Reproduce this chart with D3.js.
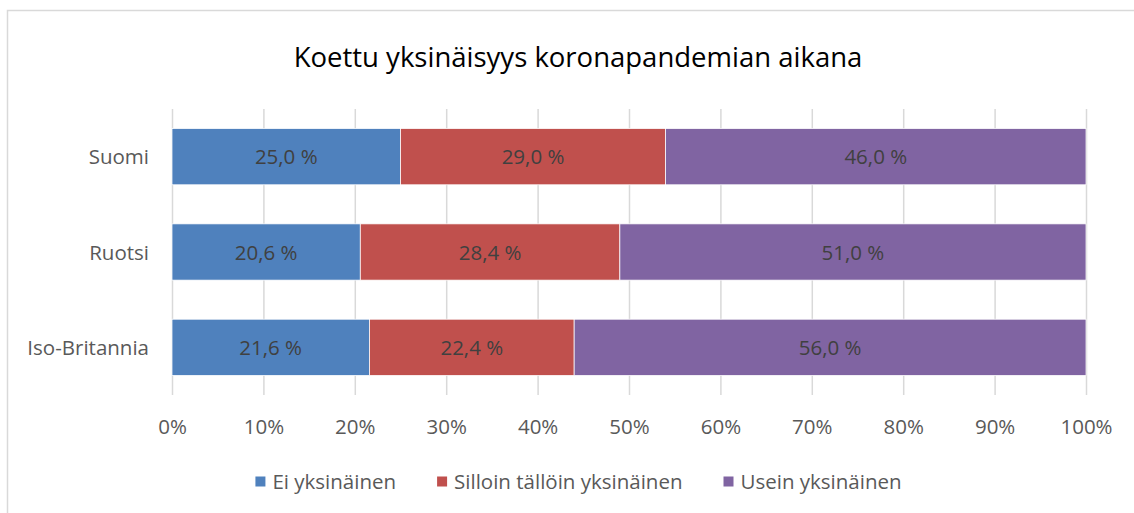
<!DOCTYPE html>
<html><head><meta charset="utf-8">
<script src="https://cdn.jsdelivr.net/npm/d3@7"></script>
<style>body{margin:0;background:#fff;} svg{display:block;font-family:"Open Sans", sans-serif;}</style>
</head><body><svg id="c" width="1134" height="513"></svg>
<script>
const title = "Koettu yksinäisyys koronapandemian aikana";
const categories = ["Suomi", "Ruotsi", "Iso-Britannia"];
const seriesNames = ["Ei yksinäinen", "Silloin tällöin yksinäinen", "Usein yksinäinen"];
const eiValues = [25.0, 20.6, 21.6];
const sillointallointValues = [29.0, 28.4, 22.4];
const useinValues = [46.0, 51.0, 56.0];
const tickValues = [0, 10, 20, 30, 40, 50, 60, 70, 80, 90, 100];
const colors = ["#4F81BD", "#C0504D", "#8064A2"];
const FONT = "'Open Sans', sans-serif";
const FS = 20.5;

const svg = d3.select("#c");
svg.append("rect").attr("x", 7.5).attr("y", 10.5).attr("width", 1200).attr("height", 600)
  .attr("fill", "#fff").attr("stroke", "#d9d9d9").attr("stroke-width", 1.5);

svg.append("text").attr("x", 578).attr("y", 67).attr("text-anchor", "middle")
  .attr("font-size", 27.5).attr("fill", "#000").text(title);

const x = d3.scaleLinear().domain([0, 100]).range([172, 1086]);
const y = d3.scaleBand().domain(categories).range([109, 395]).paddingInner(0.41).paddingOuter(0.205);

// gridlines
svg.append("g").selectAll("line").data(tickValues).join("line")
  .attr("x1", d => x(d) + 0.5).attr("x2", d => x(d) + 0.5).attr("y1", 109).attr("y2", 395)
  .attr("stroke", "#d9d9d9").attr("stroke-width", 1.5);

const seriesVals = [eiValues, sillointallointValues, useinValues];
const rows = categories.map((c, i) => {
  let acc = 0;
  return seriesVals.map((s, j) => { const r = {cat: c, j, v: s[i], x0: acc, x1: acc + s[i]}; acc += s[i]; return r; });
}).flat();

const g = svg.append("g");
g.selectAll("rect").data(rows).join("rect")
  .attr("x", d => x(d.x0)).attr("width", d => x(d.x1) - x(d.x0))
  .attr("y", d => y(d.cat)).attr("height", y.bandwidth())
  .attr("fill", d => colors[d.j]).attr("stroke", "#fff").attr("stroke-width", 0.75);

g.selectAll("text").data(rows).join("text")
  .attr("x", d => (x(d.x0) + x(d.x1)) / 2).attr("y", d => y(d.cat) + y.bandwidth() / 2 + 7.5)
  .attr("text-anchor", "middle").attr("font-size", FS).attr("fill", "#404040")
  .text(d => d.v.toFixed(1).replace(".", ",") + " %");

// category axis labels
svg.append("g").selectAll("text").data(categories).join("text")
  .attr("x", 149).attr("y", d => y(d) + y.bandwidth() / 2 + 7.5).attr("text-anchor", "end")
  .attr("font-size", FS).attr("fill", "#595959").text(d => d);

// x axis tick labels
const xAxis = d3.axisBottom(x).tickValues(tickValues).tickFormat(d => d + "%").tickSize(0).tickPadding(0);
const ax = svg.append("g").attr("transform", "translate(0,419)").call(xAxis);
ax.select(".domain").remove();
ax.selectAll("text").attr("font-size", FS).attr("fill", "#595959").attr("font-family", FONT);

// legend
const lg = svg.append("g");
const items = lg.selectAll("g").data(seriesNames).join("g");
items.append("rect").attr("width", 10).attr("height", 10).attr("y", -12).attr("fill", (d, i) => colors[i]);
items.append("text").attr("x", 17).attr("font-size", FS).attr("fill", "#595959").text(d => d);
const widths = [];
items.each(function() { widths.push(17 + d3.select(this).select("text").node().getComputedTextLength()); });
const gap = 41;
const total = d3.sum(widths) + gap * (widths.length - 1);
let cx = 578.5 - total / 2;
items.attr("transform", (d, i) => { const t = `translate(${cx},488.5)`; cx += widths[i] + gap; return t; });
</script></body></html>
